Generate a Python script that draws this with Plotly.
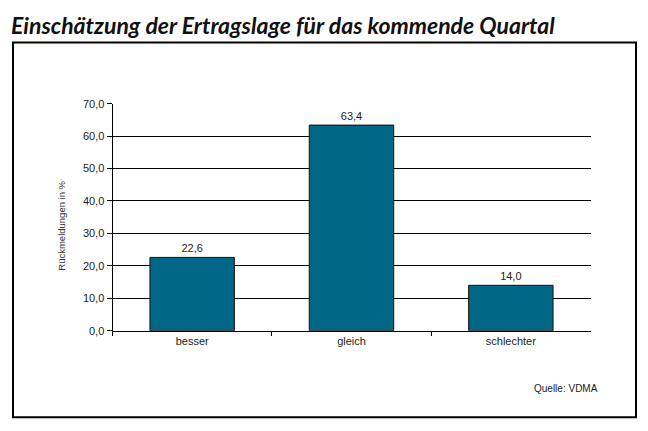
import plotly.graph_objects as go

categories = ["besser", "gleich", "schlechter"]
values = [22.6, 63.4, 14.0]
ytick_vals = [0, 10, 20, 30, 40, 50, 60, 70]
grid_vals = [10, 20, 30, 40, 50, 60]

W, H = 648, 431
def px(x):
    return x / W
def py(y):
    return (H - y) / H

bar_color = "#006787"
tick_font = dict(family="Liberation Sans, Arial, sans-serif", size=11, color="#222222")

fig = go.Figure()
fig.add_trace(go.Bar(
    x=categories, y=values,
    marker=dict(color=bar_color, line=dict(color="#111111", width=1)),
    texttemplate="%{y:.1f}", textposition="outside",
    textfont=dict(family="Liberation Sans, Arial, sans-serif", size=11, color="#222222"),
    cliponaxis=False, yaxis="y", hoverinfo="skip",
))
fig.add_trace(go.Scatter(
    x=categories, y=values, yaxis="y2", mode="markers",
    marker=dict(opacity=0), hoverinfo="skip", showlegend=False,
))

fig.update_layout(
    width=W, height=H, autosize=False,
    margin=dict(l=0, r=0, t=0, b=0),
    paper_bgcolor="white", plot_bgcolor="white",
    showlegend=False, separators=",.",
    bargap=0.47,
    xaxis=dict(
        domain=[px(112.5), px(590.5)], type="category", range=[-0.5, 2.5],
        tickson="boundaries", ticks="outside", ticklen=4, tickcolor="black",
        showline=True, linecolor="black", linewidth=1, showgrid=False,
        tickfont=tick_font, zeroline=False,
    ),
    yaxis=dict(
        domain=[py(334), py(100.5)], range=[0, 70],
        tickvals=grid_vals, showticklabels=False, ticks="",
        showgrid=True, gridcolor="black", gridwidth=1, zeroline=False,
        showline=False,
    ),
    yaxis2=dict(
        overlaying="y", side="left", range=[0, 70], anchor="x",
        tickvals=ytick_vals, tickformat=".1f", ticks="outside", ticklen=5,
        tickcolor="black", showline=True, linecolor="black", linewidth=1,
        showgrid=False, zeroline=False, tickfont=tick_font,
    ),
)

fig.add_shape(type="rect", xref="paper", yref="paper",
              x0=px(13), x1=px(636), y0=py(423), y1=py(37.5),
              line=dict(color="black", width=2), fillcolor="rgba(0,0,0,0)")

fig.add_annotation(text="Einschätzung der Ertragslage für das kommende Quartal",
                   xref="paper", yref="paper", x=px(9), y=py(3),
                   xanchor="left", yanchor="top", showarrow=False,
                   font=dict(family="Lato, Open Sans, sans-serif", size=23,
                             color="#111111", weight="bold", style="italic"))
fig.add_annotation(text="Rückmeldungen in %", textangle=-90,
                   xref="paper", yref="paper", x=px(62), y=py(226),
                   xanchor="center", yanchor="middle", showarrow=False,
                   font=dict(family="Liberation Sans, Arial, sans-serif", size=9.5, color="#333333"))
fig.add_annotation(text="Quelle: VDMA",
                   xref="paper", yref="paper", x=px(600), y=py(393),
                   xanchor="right", yanchor="middle", showarrow=False,
                   font=dict(family="Liberation Sans, Arial, sans-serif", size=10, color="#222222"))

fig.write_html("out.html")
